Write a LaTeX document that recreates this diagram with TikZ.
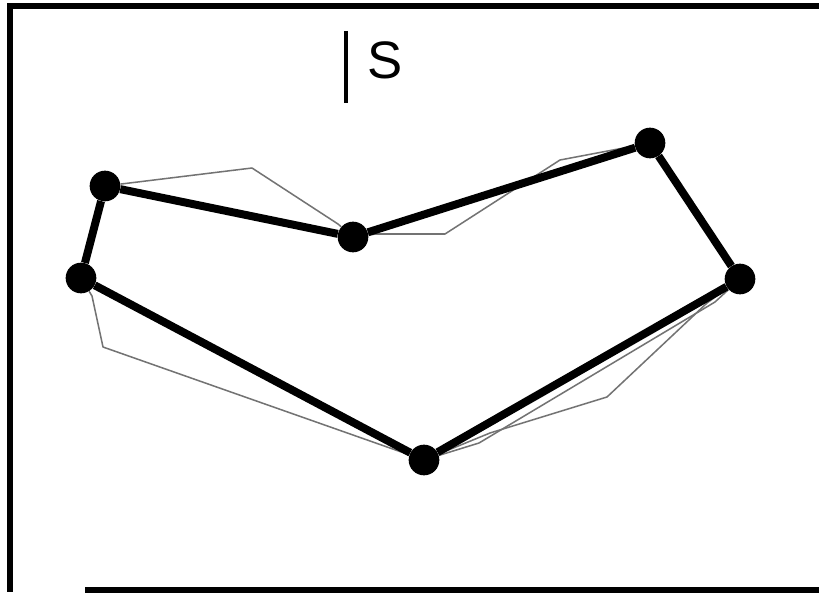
\documentclass[tikz,border=0pt]{standalone}
\usepackage{fontspec}
\setmainfont{Liberation Sans}
\begin{document}
\begin{tikzpicture}[x=0.03cm,y=-0.03cm,
  dot/.style={circle,fill=black,inner sep=0pt,minimum size=0.92cm},
  edge/.style={line width=6.8pt,line join=round},
  ghost/.style={black!55,line width=1.3pt,line join=round}]
\useasboundingbox (0,0) rectangle (819,593);
% frame
\draw[line width=4.5pt] (819,6) -- (10,6) -- (10,592);
\draw[line width=4.5pt] (85,590) -- (819,590);
% marker and label
\draw[line width=4pt] (346,31) -- (346,103);
\node[font=\fontsize{45}{50}\selectfont,inner sep=0pt] (lab) at (385,60) {S};
% vertices
\node[dot] (a) at (105,186) {};
\node[dot] (b) at (353,237) {};
\node[dot] (c) at (650,143) {};
\node[dot] (d) at (740,279) {};
\node[dot] (e) at (424,460) {};
\node[dot] (f) at (81,278) {};
% earlier contour
\coordinate (g1) at (252,168);
\coordinate (g2) at (338,224);
\coordinate (g3) at (376,234);
\coordinate (g4) at (445,234);
\coordinate (g5) at (560,160);
\coordinate (g6) at (707,303);
\coordinate (g7) at (607,397);
\coordinate (g8) at (490,433);
\coordinate (g9) at (103,347);
\coordinate (g10) at (92,296);
\draw[ghost] (a) -- (g1) -- (g2) -- (b) -- (g3) -- (g4) -- (g5) -- (c);
\draw[ghost] (d) -- (g6) -- (g7) -- (g8) -- (e);
\draw[ghost] (e) -- (g9) -- (g10) -- (f);
\coordinate (h1) at (479,443);
\coordinate (h2) at (715,302);
\draw[ghost] (e) -- (h1) -- (h2) -- (d);
% contour
\draw[edge] (a) -- (b) -- (c) -- (d) -- (e) -- (f) -- (a);
\end{tikzpicture}
\end{document}
